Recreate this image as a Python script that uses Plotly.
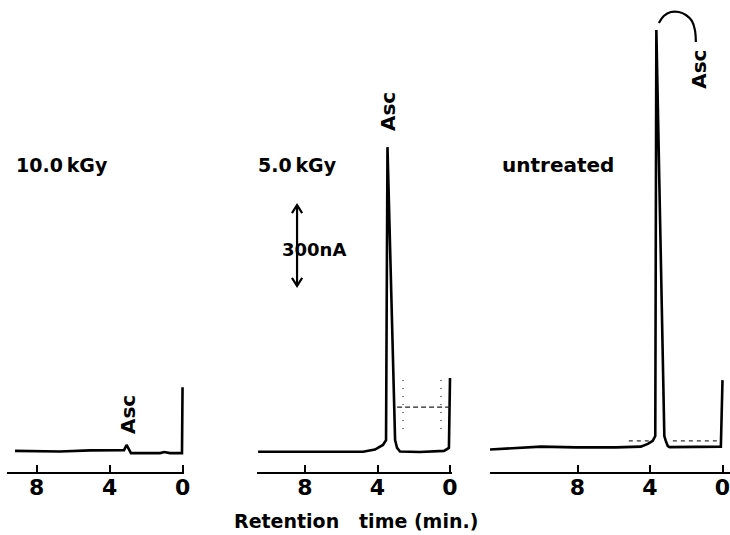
import plotly.graph_objects as go

# ---------------- data (retention time in min, detector signal in nA) ----------------
# Panel 1: 10.0 kGy
t_10kgy = [9.19, 6.72, 5.08, 3.43, 3.21, 3.07, 2.94, 2.83, 1.23, 1.00, 0.69, 0.03, 0.0]
i_10kgy = [4, 2, 6, 6, 7, 26, 7, -4, -4, 0, -4, -4, 240]

# Panel 2: 5.0 kGy
t_5kgy = [10.59, 8.28, 4.80, 4.14, 3.70, 3.53, 3.45, 3.03, 2.92, 2.76, 1.66, 0.33, 0.06, 0.0]
i_5kgy = [1, 0, 1, 9, 26, 44, 1128, 44, 15, 2, 0, 4, 15, 274]

# Panel 3: untreated
t_untr = [12.83, 11.40, 10.02, 8.09, 5.89, 4.51, 4.12, 3.85, 3.71, 3.65, 3.21, 3.13, 3.02, 2.91, 1.47, 0.09, 0.0]
i_untr = [9, 15, 20, 17, 17, 20, 30, 41, 59, 1561, 59, 41, 22, 18, 18, 20, 266]

# Recorder reference (dashed) levels
ref5_t = [2.92, 0.0]
ref5_i = [166, 166]
refu_t = [5.17, 4.07, None, 2.74, 0.2]
refu_i = [41, 41, None, 41, 41]
# recorder dotted verticals (5.0 kGy)
dot5_t = [2.59, 2.59, None, 0.5, 0.5]
dot5_i = [266, 74, None, 266, 74]

# Leader curve for the "Asc" label of the untreated run
lead_t = [3.51, 3.24, 2.85, 2.41, 2.02, 1.69, 1.52, 1.47]
lead_i = [1587, 1613, 1628, 1628, 1617, 1595, 1561, 1517]

tick_vals = [8, 4, 0]
tick_text = ["8", "4", "0"]
panel_labels = ["10.0\u2009kGy", "5.0\u2009kGy", "untreated"]
peak_label = "Asc"
asc_pos = [(2.99, 137), (3.42, 1258), (1.34, 1415)]

SCALE_NA = 300
SCALE_TOP = 914
SCALE_T = 8.44

# ---------------- figure ----------------
W, H = 730, 535
BLACK = "#000000"
FONT = "DejaVu Sans"

fig = go.Figure()

def line(x, y, ax, width=2.6, dash=None, color=BLACK, shape="linear"):
    fig.add_trace(go.Scatter(x=x, y=y, xaxis=ax, yaxis="y", mode="lines",
                             line=dict(color=color, width=width, dash=dash, shape=shape),
                             hoverinfo="skip", showlegend=False, connectgaps=False))

line(t_10kgy, i_10kgy, "x")
line(t_5kgy, i_5kgy, "x2")
line(t_untr, i_untr, "x3")
line(ref5_t, ref5_i, "x2", width=1.3, dash="5px,3px", color="#222")
line(dot5_t, dot5_i, "x2", width=1.3, dash="1px,7px", color="#444")
line(refu_t, refu_i, "x3", width=1.3, dash="4px,4px", color="#333")
line(lead_t, lead_i, "x3", width=2.2, shape="spline")

# 300 nA scale bar with open arrow heads
bw = 0.28   # barb half-width (min)
bh = 30     # barb height (nA)
top, bot = SCALE_TOP, SCALE_TOP - SCALE_NA
sx = [SCALE_T - bw, SCALE_T, SCALE_T + bw, None, SCALE_T, SCALE_T, None,
      SCALE_T - bw, SCALE_T, SCALE_T + bw]
sy = [top - bh, top, top - bh, None, top, bot, None, bot + bh, bot, bot + bh]
line(sx, sy, "x2", width=2.2)

axis_common = dict(showline=True, linecolor=BLACK, linewidth=2.4, showgrid=False,
                   zeroline=False, tickmode="array", tickvals=tick_vals, ticktext=tick_text,
                   ticks="inside", ticklen=7, tickwidth=2.4, tickcolor=BLACK,
                   ticklabelstandoff=-6, automargin=False, ticklabeloverflow="allow",
                   tickfont=dict(family=FONT, size=22, color=BLACK, weight="bold"),
                   anchor="y", fixedrange=True)

y_bottom_px = 472
fig.update_layout(
    width=W, height=H, margin=dict(l=0, r=0, t=0, b=0, pad=0, autoexpand=False),
    paper_bgcolor="white", plot_bgcolor="white", showlegend=False,
    xaxis=dict(domain=[7 / W, 184 / W], range=[9.63, -0.08], **axis_common),
    xaxis2=dict(domain=[257 / W, 452 / W], range=[10.65, -0.11], **axis_common),
    xaxis3=dict(domain=[490 / W, 1.0], range=[12.83, -0.414], **axis_common),
    yaxis=dict(domain=[1 - y_bottom_px / H, 1], range=[-74, 1672.4], visible=False,
               fixedrange=True, automargin=False),
)

bold = dict(family=FONT, color=BLACK, weight="bold")
ann = []
for lab, xpx, sz in zip(panel_labels, [14, 256, 500], [19, 19, 20]):
    ann.append(dict(text=lab, xref="paper", yref="paper", x=xpx / W, y=1 - 165 / H,
                    xanchor="left", yanchor="middle", showarrow=False,
                    font=dict(size=sz, **bold)))
for (t, v), ax in zip(asc_pos, ["x", "x2", "x3"]):
    ann.append(dict(text=peak_label, xref=ax, yref="y", x=t, y=v, textangle=-90,
                    xanchor="center", yanchor="middle", showarrow=False,
                    font=dict(size=20, **bold)))
ann.append(dict(text="300nA", xref="x2", yref="y", x=7.5, y=751, showarrow=False,
                xanchor="center", yanchor="middle", font=dict(size=18, **bold)))
ann.append(dict(text="Retention\u00a0\u00a0 time (min.)", xref="paper", yref="paper",
                x=232 / W, y=1 - 521 / H, xanchor="left", yanchor="middle",
                showarrow=False, font=dict(size=19, **bold)))
fig.update_layout(annotations=ann)

fig.write_html("out.html")
